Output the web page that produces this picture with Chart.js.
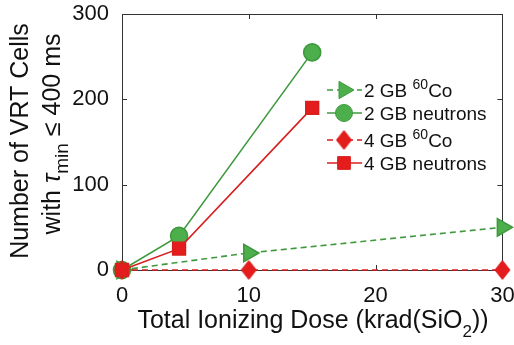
<!DOCTYPE html>
<html lang="en">
<head>
  <meta charset="UTF-8">
  <script src="https://cdn.jsdelivr.net/npm/chart.js"></script>
  <title>VRT cells vs dose</title>
  <style>
    html, body{margin: 0; padding: 0; background: #fff;}
    #wrap{width: 514px; height: 345px;}
  </style>
</head>
<body>
  <div id="wrap">
    <canvas id="myChart" width="514" height="345"></canvas>
  </div>
  <script>
    // dose points (krad(SiO2))
    const doseCo = [0, 10, 30];
    const doseNeutron = [0, 4.5, 15];

    // VRT cell counts
    const co2GB = [0, 20, 50];
    const neutron2GB = [0, 40, 255];
    const co4GB = [0, 0, 0];
    const neutron4GB = [0, 25, 190];

    const xTicks = [0, 10, 20, 30];
    const yTicks = [0, 100, 200, 300];

    const FONT = '"Liberation Sans", Arial, sans-serif';
    const GREEN_LINE = '#3f9a3f';
    const GREEN_FILL = '#4caf4c';
    const RED_LINE = '#d81e1e';
    const RED_FILL = '#e41c1c';

    function pts(xs, ys){
      return xs.map((x, i) => ({x: x, y: ys[i]}));
    }

    // taller-than-wide diamond marker
    function diamond(w, h, fill, stroke){
      const c = document.createElement('canvas');
      c.width = w + 2; c.height = h + 2;
      const g = c.getContext('2d');
      g.beginPath();
      g.moveTo(c.width / 2, 1);
      g.lineTo(c.width - 1, c.height / 2);
      g.lineTo(c.width / 2, c.height - 1);
      g.lineTo(1, c.height / 2);
      g.closePath();
      g.fillStyle = fill; g.fill();
      g.strokeStyle = stroke; g.lineWidth = 1; g.stroke();
      return c;
    }
    const diamondImg = diamond(15, 19, RED_FILL, RED_LINE);

    // legend entries: text pieces, "sup" ones are raised
    const legendRows = [
      {ds: 0, parts: [['2 GB ', 'n'], ['60', 'sup'], ['Co', 'n']]},
      {ds: 1, parts: [['2 GB neutrons', 'n']]},
      {ds: 2, parts: [['4 GB ', 'n'], ['60', 'sup'], ['Co', 'n']]},
      {ds: 3, parts: [['4 GB neutrons', 'n']]}
    ];

    const frame = {
      id: 'frame',
      beforeDatasetsDraw(chart){
        const ctx = chart.ctx;
        const a = chart.chartArea;
        const xs = chart.scales.x, ys = chart.scales.y;
        ctx.save();
        ctx.strokeStyle = '#333';
        ctx.lineWidth = 1;
        ctx.strokeRect(Math.round(a.left) + 0.5, Math.round(a.top) + 0.5,
          Math.round(a.right - a.left), Math.round(a.bottom - a.top));
        ctx.beginPath();
        xTicks.forEach(v => {
          const px = Math.round(xs.getPixelForValue(v)) + 0.5;
          ctx.moveTo(px, a.bottom); ctx.lineTo(px, a.bottom - 5);
          ctx.moveTo(px, a.top); ctx.lineTo(px, a.top + 5);
        });
        yTicks.forEach(v => {
          const py = Math.round(ys.getPixelForValue(v)) + 0.5;
          ctx.moveTo(a.left, py); ctx.lineTo(a.left + 5, py);
          ctx.moveTo(a.right, py); ctx.lineTo(a.right - 5, py);
        });
        ctx.stroke();
        ctx.restore();
      },
      afterDraw(chart){
        const ctx = chart.ctx;
        ctx.save();
        ctx.fillStyle = '#111';
        ctx.textBaseline = 'alphabetic';

        // x title with subscript
        const big = '25px ' + FONT, sub = '17px ' + FONT;
        ctx.font = big;
        const t1 = 'Total Ionizing Dose (krad(SiO', t3 = '))';
        const w1 = ctx.measureText(t1).width, w3 = ctx.measureText(t3).width;
        ctx.font = sub;
        const w2 = ctx.measureText('2').width;
        let x = 313 - (w1 + w2 + w3) / 2;
        ctx.font = big; ctx.textAlign = 'left';
        ctx.fillText(t1, x, 328);
        ctx.font = sub; ctx.fillText('2', x + w1, 337);
        ctx.font = big; ctx.fillText(t3, x + w1 + w2, 328);

        // y title, two rotated lines
        ctx.save();
        ctx.translate(28, 141);
        ctx.rotate(-Math.PI / 2);
        ctx.textAlign = 'center';
        ctx.font = big;
        ctx.fillText('Number of VRT Cells', 0, 0);
        ctx.restore();

        ctx.save();
        ctx.translate(60, 134);
        ctx.rotate(-Math.PI / 2);
        ctx.textAlign = 'left';
        const pieces = [
          ['with ', big, 0],
          ['\u03c4', 'italic ' + big, 0],
          ['min', '19px ' + FONT, 8],
          [' \u2264 400 ms', big, 0]
        ];
        let total = 0;
        pieces.forEach(p => { ctx.font = p[1]; total += ctx.measureText(p[0]).width; });
        let px = -total / 2;
        pieces.forEach(p => {
          ctx.font = p[1];
          ctx.fillText(p[0], px, p[2]);
          px += ctx.measureText(p[0]).width;
        });
        ctx.restore();

        // legend
        const rowY = [90, 113, 140, 163];
        legendRows.forEach((row, i) => {
          const ds = chart.data.datasets[row.ds];
          const y = rowY[i];
          ctx.save();
          ctx.strokeStyle = ds.borderColor;
          ctx.lineWidth = ds.borderWidth;
          ctx.setLineDash(ds.borderDash || []);
          ctx.beginPath();
          ctx.moveTo(327, y); ctx.lineTo(362, y);
          ctx.stroke();
          ctx.restore();
          ctx.save();
          ctx.fillStyle = ds.pointBackgroundColor;
          ctx.strokeStyle = ds.pointBorderColor;
          ctx.lineWidth = 1;
          Chart.helpers.drawPoint(ctx, {
            pointStyle: ds.pointStyle,
            radius: ds.pointRadius,
            rotation: ds.pointRotation || 0,
            borderWidth: 1
          }, 344, y);
          ctx.restore();
          let tx = 364;
          ctx.fillStyle = '#111';
          row.parts.forEach(p => {
            ctx.font = (p[1] === 'sup' ? '14px ' : '19px ') + FONT;
            ctx.fillText(p[0], tx, p[1] === 'sup' ? y - 1 : y + 7);
            tx += ctx.measureText(p[0]).width;
          });
        });
        ctx.restore();
      }
    };

    // keep tick labels from pushing the plot area inward
    function noPad(s){
      s.paddingLeft = 0; s.paddingRight = 0;
      s.paddingTop = 0; s.paddingBottom = 0;
    }

    const ctx = document.getElementById('myChart');

    new Chart(ctx, {
      type: 'scatter',
      data: {
        datasets: [{
          label: '2 GB 60Co',
          data: pts(doseCo, co2GB),
          showLine: true,
          borderColor: GREEN_LINE,
          borderWidth: 1.6,
          borderDash: [6, 4],
          pointStyle: 'triangle',
          pointRotation: 90,
          pointRadius: 10,
          pointBackgroundColor: GREEN_FILL,
          pointBorderColor: GREEN_LINE,
          order: 3,
          clip: false
        }, {
          label: '2 GB neutrons',
          data: pts(doseNeutron, neutron2GB),
          showLine: true,
          borderColor: GREEN_LINE,
          borderWidth: 1.6,
          pointStyle: 'circle',
          pointRadius: 8.5,
          pointBackgroundColor: GREEN_FILL,
          pointBorderColor: GREEN_LINE,
          order: 2,
          clip: false
        }, {
          label: '4 GB 60Co',
          data: pts(doseCo, co4GB),
          showLine: true,
          borderColor: RED_LINE,
          borderWidth: 1.6,
          borderDash: [6, 4],
          pointStyle: diamondImg,
          pointRadius: 9,
          pointBackgroundColor: RED_FILL,
          pointBorderColor: RED_LINE,
          order: 1,
          clip: false
        }, {
          label: '4 GB neutrons',
          data: pts(doseNeutron, neutron4GB),
          showLine: true,
          borderColor: RED_LINE,
          borderWidth: 1.6,
          pointStyle: 'rect',
          pointRadius: 9,
          pointBackgroundColor: RED_FILL,
          pointBorderColor: RED_LINE,
          order: 0,
          clip: false
        }]
      },
      options: {
        responsive: false,
        animation: false,
        layout: {padding: {left: 0, right: 11, top: 14, bottom: 0}},
        plugins: {legend: {display: false}, tooltip: {enabled: false}},
        scales: {
          x: {
            type: 'linear',
            min: xTicks[0], max: xTicks[xTicks.length - 1],
            afterBuildTicks: s => { s.ticks = xTicks.map(v => ({value: v})); },
            afterFit: s => { s.height = 75; noPad(s); },
            grid: {display: false},
            border: {display: false},
            ticks: {color: '#111', font: {family: FONT, size: 22}, padding: 5, maxRotation: 0}
          },
          y: {
            type: 'linear',
            min: yTicks[0], max: yTicks[yTicks.length - 1],
            afterBuildTicks: s => { s.ticks = yTicks.map(v => ({value: v})); },
            afterFit: s => { s.width = 122; noPad(s); },
            grid: {display: false},
            border: {display: false},
            ticks: {color: '#111', font: {family: FONT, size: 22}, padding: 5}
          }
        }
      },
      plugins: [frame]
    });
  </script>
</body>
</html>
